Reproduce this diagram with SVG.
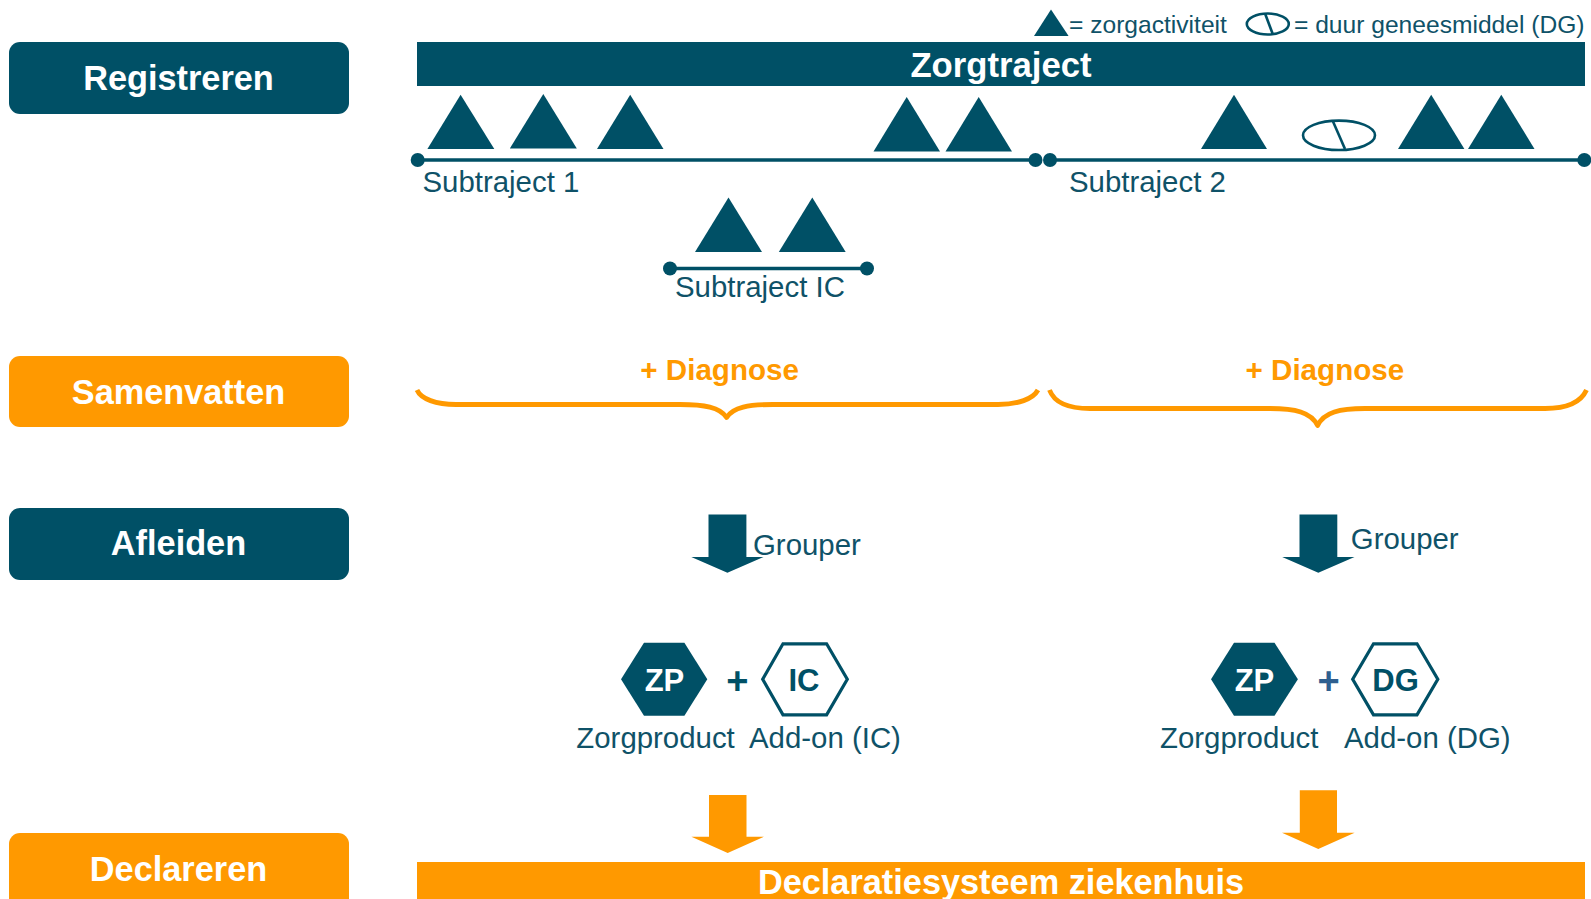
<svg xmlns="http://www.w3.org/2000/svg" width="1591" height="899" viewBox="0 0 1591 899">
<style>
text{font-family:"Liberation Sans",Arial,sans-serif}
.t{fill:#005066}
.o{fill:#FF9900}
.lab{font-size:29.400px;fill:#0f5268}
.leg{font-size:24.600px;fill:#0f5268}
.h{font-size:34.300px;font-weight:bold;fill:#fff;text-anchor:middle}
.dx{font-size:29.600px;font-weight:bold;fill:#FF9900}
.hx{font-size:31px;font-weight:bold;text-anchor:middle}
.ln{stroke:#005066;stroke-width:3.600;fill:none}
.thin{stroke:#005066;stroke-width:2.600;fill:none}
.hexo{stroke:#005066;stroke-width:3.200;fill:none}
.br{stroke:#FF9900;stroke-width:4.800;fill:none;stroke-linejoin:round}
.pl{font-size:38px;font-weight:bold;text-anchor:middle}
</style>
<rect width="1591" height="899" fill="#fff"/>
<g id="phase-registreren"><rect class="t" x="9" y="42" width="340" height="72" rx="11"/><text class="h" x="178.500" y="89.500">Registreren</text></g>
<g id="phase-samenvatten"><rect class="o" x="9" y="356" width="340" height="71" rx="11"/><text class="h" x="178.500" y="403.500">Samenvatten</text></g>
<g id="phase-afleiden"><rect class="t" x="9" y="508" width="340" height="72" rx="11"/><text class="h" x="178.500" y="555">Afleiden</text></g>
<g id="phase-declareren"><rect class="o" x="9" y="833" width="340" height="90" rx="11"/><text class="h" x="178.500" y="881">Declareren</text></g>
<g id="legend">
<polygon class="t" points="1051,9.500 1068.600,36 1034,36"/>
<text class="leg" x="1069" y="32.700">= zorgactiviteit</text>
<ellipse class="thin" cx="1267.800" cy="24" rx="21" ry="10.500"/><line class="thin" x1="1265" y1="13.500" x2="1273" y2="34.700"/>
<text class="leg" x="1294" y="32.700">= duur geneesmiddel (DG)</text>
</g>
<g id="zorgtraject"><rect class="t" x="417" y="42" width="1168" height="44"/><text class="h" style="font-size:34.700px" x="1001" y="76.700">Zorgtraject</text></g>
<g id="connectors">
<line class="ln" x1="418" y1="160" x2="1036" y2="160"/>
<line class="ln" x1="1050" y1="160" x2="1584" y2="160"/>
<line class="ln" x1="670" y1="268.500" x2="867" y2="268.500"/>
<path class="br" d="M417 390C421 399 436 404.500 456 404.500H680C704 404.500 720 407 726.600 417.500C733 407 749 404.500 773 404.500H998C1018 404.500 1033 399 1038 390"/>
<path class="br" d="M1049.500 390C1054 402 1068 408.500 1090 408.500H1270C1295 408.500 1311 412 1317.600 425.500C1324 412 1340 408.500 1365 408.500H1545C1567 408.500 1581 402 1586.500 390"/>
</g>
<g id="subtraject-1">
<circle class="t" cx="417.700" cy="160" r="7"/><circle class="t" cx="1035.500" cy="160" r="7"/>
<polygon class="t" points="460.600,94.700 494.300,149 427.400,149"/>
<polygon class="t" points="543.300,94 576.800,148.500 509.800,148.500"/>
<polygon class="t" points="630.200,94.700 663.500,149 597,149"/>
<polygon class="t" points="906.700,97 940,151.500 873.500,151.500"/>
<polygon class="t" points="978.700,97 1012,151.500 945.500,151.500"/>
<text class="lab" x="422.500" y="192">Subtraject 1</text>
</g>
<g id="subtraject-2">
<circle class="t" cx="1050" cy="160" r="7"/><circle class="t" cx="1584.300" cy="160" r="7"/>
<polygon class="t" points="1234,94.700 1267,149 1201,149"/>
<ellipse class="thin" cx="1339" cy="135.300" rx="36" ry="14.700"/><line class="thin" x1="1333" y1="121.500" x2="1345" y2="149"/>
<polygon class="t" points="1431.200,94.700 1464.400,149 1398,149"/>
<polygon class="t" points="1501.300,94.700 1534.500,149 1468,149"/>
<text class="lab" x="1069" y="192">Subtraject 2</text>
</g>
<g id="subtraject-ic">
<circle class="t" cx="670" cy="268.500" r="7"/><circle class="t" cx="867" cy="268.500" r="7"/>
<polygon class="t" points="728.500,197.500 762,252 695,252"/>
<polygon class="t" points="812.300,197.500 845.700,252 778.800,252"/>
<text class="lab" x="675" y="296.700">Subtraject IC</text>
</g>
<g id="diagnose-1"><text class="dx" x="640.300" y="380">+ Diagnose</text></g>
<g id="diagnose-2"><text class="dx" x="1245.500" y="380">+ Diagnose</text></g>
<g id="grouper-1"><polygon class="t" points="708.500,514.500 746.400,514.500 746.400,557 763.500,557 727.400,572.700 691.300,557 708.500,557"/><text class="lab" x="753" y="555">Grouper</text></g>
<g id="grouper-2"><polygon class="t" points="1299.500,514.500 1337.300,514.500 1337.300,557 1354.500,557 1318.300,572.700 1282.200,557 1299.500,557"/><text class="lab" x="1350.800" y="549.300">Grouper</text></g>
<g id="result-1">
<polygon class="t" points="644,642.700 684.400,642.700 707.300,679.300 684.400,715.700 644,715.700 621,679.300"/>
<text class="hx" fill="#fff" x="664.500" y="690.700">ZP</text>
<text class="pl" fill="#005066" x="737.300" y="693.500">+</text>
<polygon class="hexo" points="783,643.800 826.600,643.800 847.300,679.300 826.600,714.800 783,714.800 762.700,679.300"/>
<text class="hx" fill="#005066" x="804" y="690.700">IC</text>
<text class="lab" x="576.300" y="748.300">Zorgproduct</text>
<text class="lab" x="749" y="748.300">Add-on (IC)</text>
</g>
<g id="result-2">
<polygon class="t" points="1234,642.700 1274.500,642.700 1297.900,679.300 1274.500,715.700 1234,715.700 1211,679.300"/>
<text class="hx" fill="#fff" x="1254.500" y="690.700">ZP</text>
<text class="pl" fill="#2f5f8f" x="1328.500" y="693.500">+</text>
<polygon class="hexo" points="1373.500,643.800 1417,643.800 1437.800,679.300 1417,714.800 1373.500,714.800 1352.700,679.300"/>
<text class="hx" fill="#005066" x="1395.500" y="690.700">DG</text>
<text class="lab" x="1160" y="748.300">Zorgproduct</text>
<text class="lab" x="1344" y="748.300">Add-on (DG)</text>
</g>
<g id="arrow-declare-1"><polygon class="o" points="709,795 746.500,795 746.500,836.700 764,836.700 727.700,853 691.400,836.700 709,836.700"/></g>
<g id="arrow-declare-2"><polygon class="o" points="1299.800,790.300 1337,790.300 1337,832.700 1354.600,832.700 1318.300,849 1282,832.700 1299.800,832.700"/></g>
<g id="declaratiesysteem"><rect class="o" x="417" y="862" width="1168" height="37"/><text class="h" x="1001" y="894">Declaratiesysteem ziekenhuis</text></g>
</svg>
